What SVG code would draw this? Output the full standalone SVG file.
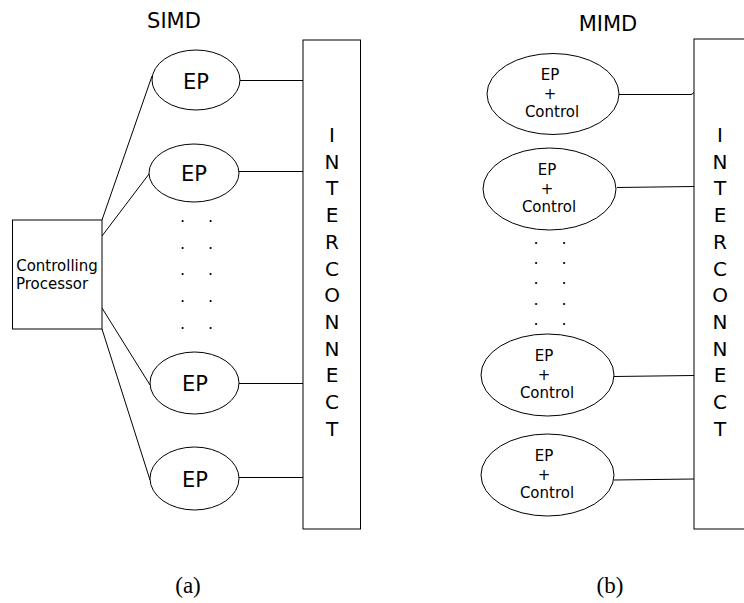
<svg xmlns="http://www.w3.org/2000/svg" width="744" height="603" viewBox="0 0 744 603">
  <style>
    .shape { fill: #fff; stroke: #000; stroke-width: 1; }
    .wire { fill: none; stroke: #000; stroke-width: 1; }
    .title { font-family: "DejaVu Sans", sans-serif; font-size: 21px; fill: #000; text-anchor: middle; }
    .ep { font-family: "DejaVu Sans", sans-serif; font-size: 21px; fill: #000; text-anchor: middle; }
    .small { font-family: "DejaVu Sans", sans-serif; font-size: 15px; fill: #000; text-anchor: middle; }
    .vert { font-family: "DejaVu Sans", sans-serif; font-size: 20px; fill: #000; text-anchor: middle; }
    .dot { font-family: "DejaVu Sans", sans-serif; font-size: 16px; fill: #000; text-anchor: middle; }
    .cap { font-family: "Liberation Serif", "DejaVu Serif", serif; font-size: 23px; fill: #000; text-anchor: middle; }
  </style>

  <!-- ===== Panel (a): SIMD ===== -->
  <text class="title" x="174" y="28">SIMD</text>

  <g id="simd-connectors">
    <line class="wire" x1="102" y1="220" x2="152" y2="76"/>
    <line class="wire" x1="102" y1="236" x2="149" y2="174"/>
    <line class="wire" x1="102" y1="308" x2="150" y2="385"/>
    <line class="wire" x1="102" y1="329" x2="150" y2="480"/>
    <line class="wire" x1="240" y1="80.5" x2="303" y2="80.5"/>
    <line class="wire" x1="239" y1="171.5" x2="303" y2="171.5"/>
    <line class="wire" x1="239" y1="383.5" x2="303" y2="383.5"/>
    <line class="wire" x1="239" y1="477.5" x2="303" y2="477.5"/>
  </g>

  <g id="simd-controller">
    <rect class="shape" x="12.5" y="220" width="89.5" height="109"/>
    <text class="small" x="57" y="271">Controlling</text>
    <text class="small" x="52" y="289">Processor</text>
  </g>

  <g id="simd-ep1">
    <ellipse class="shape" cx="196" cy="80" rx="44" ry="30"/>
    <text class="ep" x="196" y="89">EP</text>
  </g>
  <g id="simd-ep2">
    <ellipse class="shape" cx="194" cy="173" rx="45" ry="29"/>
    <text class="ep" x="194" y="181">EP</text>
  </g>
  <g id="simd-ep3">
    <ellipse class="shape" cx="194.5" cy="383" rx="44.5" ry="31"/>
    <text class="ep" x="195" y="391">EP</text>
  </g>
  <g id="simd-ep4">
    <ellipse class="shape" cx="194.5" cy="478.5" rx="44.5" ry="31.5"/>
    <text class="ep" x="195" y="487">EP</text>
  </g>

  <g id="simd-ellipsis">
    <text class="dot" x="182.5" y="222">.</text><text class="dot" x="210.5" y="222">.</text>
    <text class="dot" x="182.5" y="248.5">.</text><text class="dot" x="210.5" y="248.5">.</text>
    <text class="dot" x="182.5" y="275">.</text><text class="dot" x="210.5" y="275">.</text>
    <text class="dot" x="182.5" y="302">.</text><text class="dot" x="210.5" y="302">.</text>
    <text class="dot" x="182.5" y="328.5">.</text><text class="dot" x="210.5" y="328.5">.</text>
  </g>

  <g id="simd-interconnect">
    <rect class="shape" x="303" y="40" width="57.5" height="489"/>
    <text class="vert" x="332" y="142">I<tspan x="332" dy="26.7">N</tspan><tspan x="332" dy="26.7">T</tspan><tspan x="332" dy="26.7">E</tspan><tspan x="332" dy="26.7">R</tspan><tspan x="332" dy="26.7">C</tspan><tspan x="332" dy="26.7">O</tspan><tspan x="332" dy="26.7">N</tspan><tspan x="332" dy="26.7">N</tspan><tspan x="332" dy="26.7">E</tspan><tspan x="332" dy="26.7">C</tspan><tspan x="332" dy="26.7">T</tspan></text>
  </g>

  <text class="cap" x="188" y="593">(a)</text>

  <!-- ===== Panel (b): MIMD ===== -->
  <text class="title" x="608" y="31">MIMD</text>

  <g id="mimd-connectors">
    <path class="wire" d="M619,94.5 L691,94.5 Q693,94.5 694,92"/>
    <line class="wire" x1="617" y1="187.5" x2="694" y2="186.5"/>
    <line class="wire" x1="614" y1="376.5" x2="694" y2="375.5"/>
    <line class="wire" x1="614" y1="480" x2="694" y2="479"/>
  </g>

  <g id="mimd-node1">
    <ellipse class="shape" cx="553" cy="94" rx="66" ry="40.5"/>
    <text class="small" x="550" y="80">EP</text>
    <text class="small" x="550" y="98.5">+</text>
    <text class="small" x="552" y="117">Control</text>
  </g>
  <g id="mimd-node2">
    <ellipse class="shape" cx="549.5" cy="189" rx="66.5" ry="41"/>
    <text class="small" x="547" y="175">EP</text>
    <text class="small" x="547" y="193.5">+</text>
    <text class="small" x="549" y="212">Control</text>
  </g>
  <g id="mimd-node3">
    <ellipse class="shape" cx="547.5" cy="375" rx="66.5" ry="41"/>
    <text class="small" x="544" y="361">EP</text>
    <text class="small" x="544" y="379.5">+</text>
    <text class="small" x="547" y="398">Control</text>
  </g>
  <g id="mimd-node4">
    <ellipse class="shape" cx="547.5" cy="475" rx="66.5" ry="41"/>
    <text class="small" x="544" y="461">EP</text>
    <text class="small" x="544" y="479.5">+</text>
    <text class="small" x="547" y="498">Control</text>
  </g>

  <g id="mimd-ellipsis">
    <text class="dot" x="536" y="243.5">.</text><text class="dot" x="564" y="243.5">.</text>
    <text class="dot" x="536" y="264">.</text><text class="dot" x="564" y="264">.</text>
    <text class="dot" x="536" y="284">.</text><text class="dot" x="564" y="284">.</text>
    <text class="dot" x="536" y="304.5">.</text><text class="dot" x="564" y="304.5">.</text>
    <text class="dot" x="536" y="325">.</text><text class="dot" x="564" y="325">.</text>
  </g>

  <g id="mimd-interconnect">
    <rect class="shape" x="694" y="39" width="60" height="490"/>
    <text class="vert" x="720" y="142">I<tspan x="720" dy="26.7">N</tspan><tspan x="720" dy="26.7">T</tspan><tspan x="720" dy="26.7">E</tspan><tspan x="720" dy="26.7">R</tspan><tspan x="720" dy="26.7">C</tspan><tspan x="720" dy="26.7">O</tspan><tspan x="720" dy="26.7">N</tspan><tspan x="720" dy="26.7">N</tspan><tspan x="720" dy="26.7">E</tspan><tspan x="720" dy="26.7">C</tspan><tspan x="720" dy="26.7">T</tspan></text>
  </g>

  <text class="cap" x="610" y="593">(b)</text>
</svg>
